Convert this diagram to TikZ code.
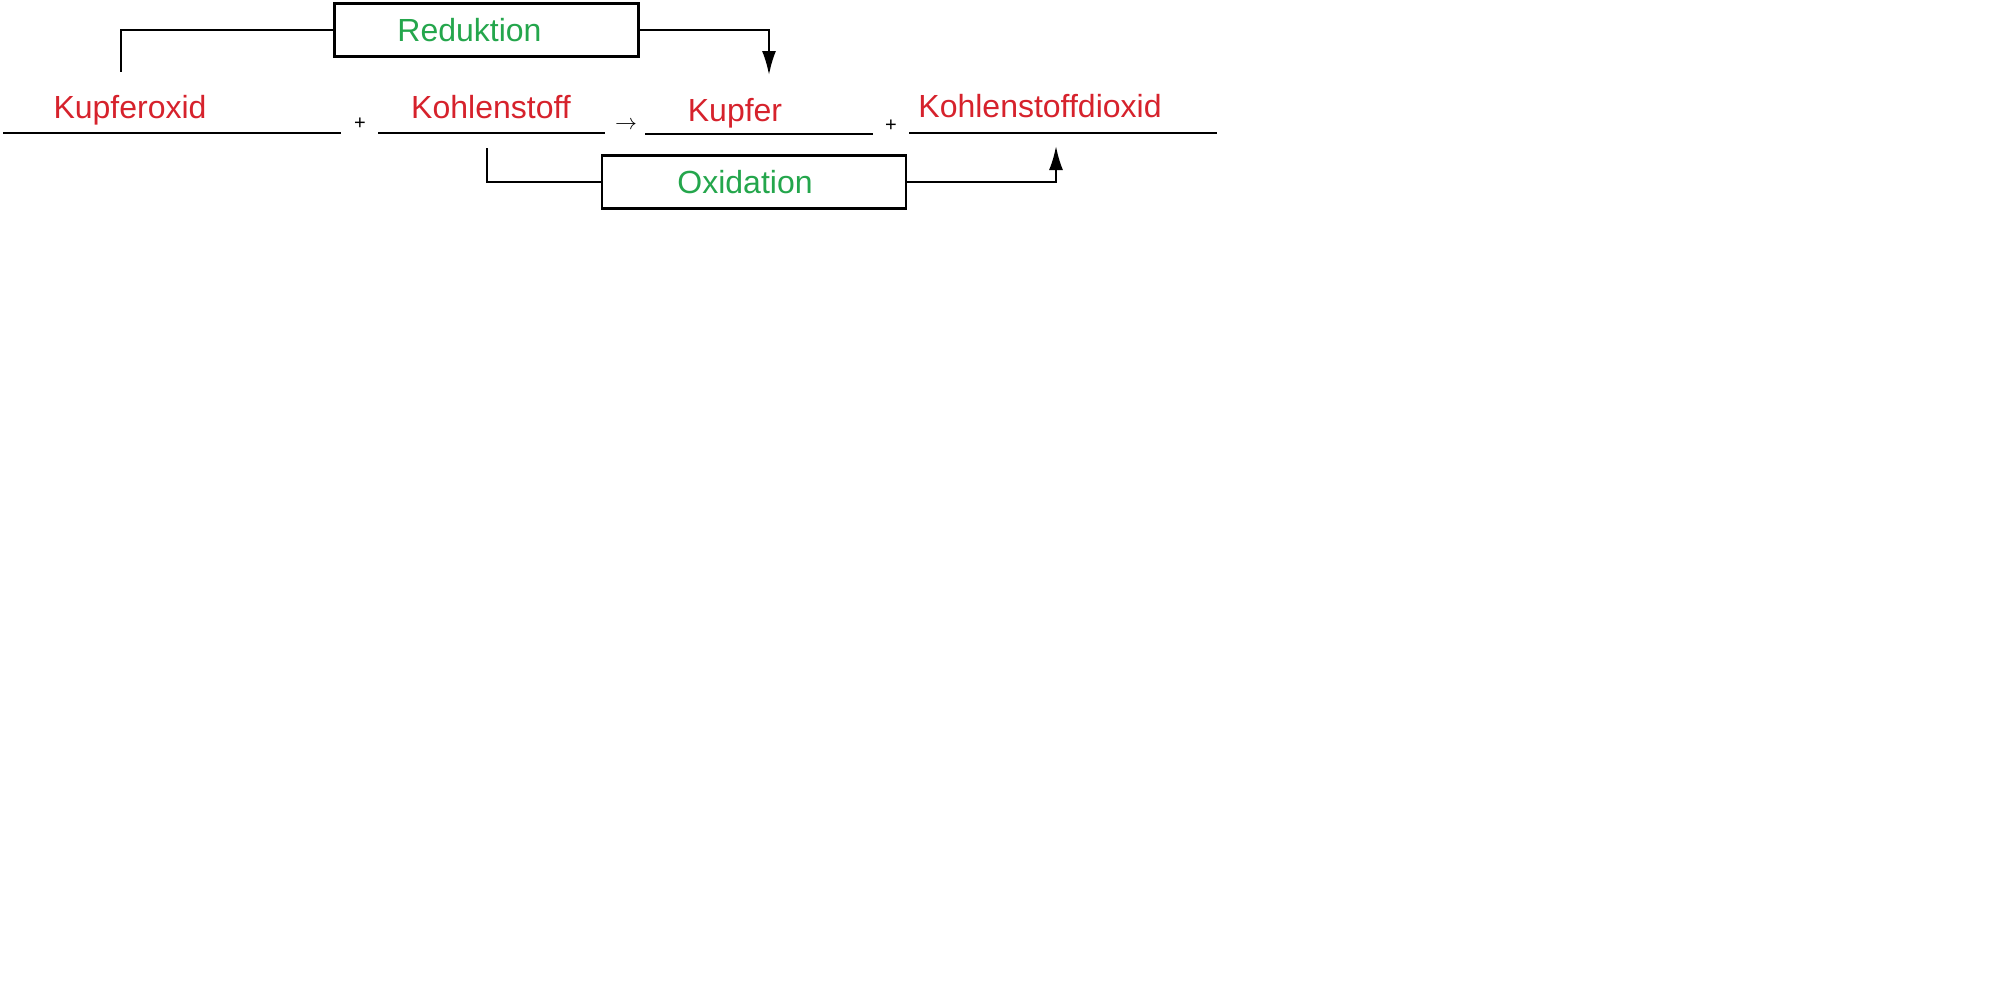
\documentclass[tikz,border=0pt]{standalone}
\usepackage{fontspec}
\setmainfont{Liberation Sans}
\usetikzlibrary{arrows.meta}
\definecolor{kred}{RGB}{214,34,44}
\definecolor{kgreen}{RGB}{36,166,76}
\tikzset{
  stoff/.style={text=kred,anchor=base,inner sep=0pt,font=\fontsize{16}{19}\selectfont},
  prozess/.style={draw,line width=1.1pt,minimum width=152pt,minimum height=26.5pt,inner sep=0pt,text=kgreen,font=\fontsize{16}{19}\selectfont},
  zeichen/.style={inner sep=0pt,font=\fontsize{10}{12}\selectfont},
  pfeil/.style={-{Latex[length=12pt,width=7pt]}}
}
\begin{document}
\begin{tikzpicture}[x=0.5pt,y=-0.5pt,line width=1.1pt]
        \useasboundingbox(0,0)rectangle(2000,997);
        % Reaktionsgleichung
        \node[stoff](cuo)at(130,118){Kupferoxid};
        \node[stoff](c)at(491,118){Kohlenstoff};
        \node[stoff](cu)at(735,121){Kupfer};
        \node[stoff](co2)at(1040,117){Kohlenstoffdioxid};
        \draw(3,133)--(341,133);
        \draw(378,133)--(605,133);
        \draw(645,134)--(873,134);
        \draw(909,133)--(1217,133);
        \node[zeichen](plusA)at(360,124){+};
        \node[zeichen,font=\fontsize{11}{13}\selectfont](pfeilR)at(626,125){$\rightarrow$};
        \node[zeichen](plusB)at(891,126){+};

        % Reduktion
        \node[prozess](red)at(486.5,30){Reduktion\kern17pt};
        \coordinate(cuoTop)at(121,72);
        \coordinate(cuTop)at(769,75);
        \draw(red.west)-|(cuoTop);
        \draw[pfeil](red.east)-|(cuTop);

        % Oxidation
        \node[prozess](ox)at(754,182){Oxidation\kern9pt};
        \coordinate(cTop)at(487,148);
        \coordinate(co2Bot)at(1056,146);
        \draw(cTop)|-(ox.west);
        \draw[pfeil](ox.east)-|(co2Bot);
    \end{tikzpicture}
\end{document}
